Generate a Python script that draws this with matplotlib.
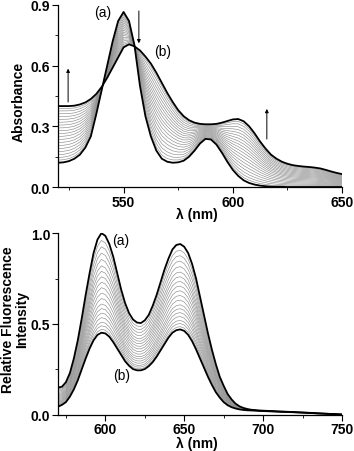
import numpy as np
import matplotlib
matplotlib.use("Agg")
import matplotlib.pyplot as plt
from matplotlib.ticker import MultipleLocator

plt.rcParams['font.family'] = ['Liberation Sans', 'DejaVu Sans']
plt.rcParams['font.weight'] = 'bold'
plt.rcParams['font.size'] = 10

# --- absorbance titration (top) ---
abs_wl = [520, 522.5, 525, 527.5, 530, 532.5, 535, 537.5, 540, 542.5, 545, 547.5,
          550, 552.5, 555, 557.5, 560, 562.5, 565, 567.5, 570, 572.5, 575, 577.5,
          580, 582.5, 585, 587.5, 590, 592.5, 595, 597.5, 600, 602.5, 605, 607.5,
          610, 612.5, 615, 617.5, 620, 622.5, 625, 627.5, 630, 632.5, 635, 637.5,
          640, 642.5, 645, 647.5, 650]
abs_a = [0.120, 0.122, 0.128, 0.140, 0.160, 0.195, 0.250, 0.360, 0.480, 0.600, 0.720, 0.820,
         0.865, 0.820, 0.700, 0.500, 0.350, 0.250, 0.180, 0.140, 0.125, 0.120, 0.122, 0.130,
         0.150, 0.180, 0.215, 0.238, 0.235, 0.210, 0.170, 0.125, 0.085, 0.055, 0.033, 0.020,
         0.012, 0.007, 0.004, 0.002, 0.001, 0.001, 0.0, 0.0, 0.0, 0.0, 0.0, 0.0,
         0.0, 0.0, 0.0, 0.0, 0.0]
abs_b = [0.400, 0.400, 0.400, 0.402, 0.408, 0.418, 0.435, 0.460, 0.495, 0.540, 0.590, 0.640,
         0.690, 0.705, 0.695, 0.675, 0.645, 0.610, 0.565, 0.515, 0.465, 0.420, 0.380, 0.350,
         0.330, 0.318, 0.312, 0.310, 0.310, 0.312, 0.318, 0.326, 0.334, 0.336, 0.325, 0.300,
         0.265, 0.225, 0.190, 0.160, 0.140, 0.125, 0.115, 0.108, 0.104, 0.101, 0.099, 0.096,
         0.092, 0.085, 0.077, 0.070, 0.064]
# absorbance of each titration step at 520 nm
abs_levels_520 = [0.133, 0.146, 0.160, 0.175, 0.190, 0.205, 0.220, 0.235, 0.250, 0.264,
                  0.278, 0.292, 0.306, 0.320, 0.334, 0.348, 0.362, 0.376, 0.388]

# --- fluorescence titration (bottom) ---
fl_wl = [570, 572.5, 575, 577.5, 580, 582.5, 585, 587.5, 590, 592.5, 595, 597.5,
         600, 602.5, 605, 607.5, 610, 612.5, 615, 617.5, 620, 622.5, 625, 627.5,
         630, 632.5, 635, 637.5, 640, 642.5, 645, 647.5, 650, 652.5, 655, 657.5,
         660, 662.5, 665, 667.5, 670, 672.5, 675, 677.5, 680, 682.5, 685, 687.5,
         690, 692.5, 695, 697.5, 700, 705, 710, 715, 720, 725, 730, 735, 740, 745, 750]
fl_a = [0.150, 0.155, 0.180, 0.230, 0.310, 0.410, 0.530, 0.660, 0.780, 0.890, 0.965, 1.000,
        0.985, 0.940, 0.870, 0.780, 0.690, 0.615, 0.560, 0.525, 0.508, 0.505, 0.520, 0.550,
        0.600, 0.660, 0.730, 0.800, 0.860, 0.910, 0.935, 0.940, 0.925, 0.890, 0.830, 0.750,
        0.650, 0.550, 0.450, 0.360, 0.280, 0.210, 0.160, 0.115, 0.085, 0.062, 0.047, 0.038,
        0.032, 0.028, 0.026, 0.024, 0.023, 0.021, 0.019, 0.017, 0.015, 0.013, 0.011, 0.008,
        0.006, 0.004, 0.002]
fl_b = [0.045, 0.055, 0.070, 0.100, 0.140, 0.190, 0.250, 0.310, 0.365, 0.410, 0.440, 0.452,
        0.448, 0.430, 0.400, 0.365, 0.330, 0.295, 0.270, 0.252, 0.245, 0.245, 0.252, 0.268,
        0.290, 0.320, 0.355, 0.390, 0.425, 0.452, 0.466, 0.470, 0.462, 0.440, 0.405, 0.360,
        0.310, 0.260, 0.210, 0.165, 0.125, 0.095, 0.070, 0.053, 0.042, 0.035, 0.030, 0.027,
        0.025, 0.024, 0.023, 0.022, 0.021, 0.019, 0.017, 0.016, 0.014, 0.012, 0.010, 0.008,
        0.006, 0.004, 0.002]
# intensity of each titration step at 597.5 nm
fl_levels_597 = [0.960, 0.925, 0.890, 0.855, 0.820, 0.790, 0.760, 0.730, 0.700, 0.670,
                 0.640, 0.610, 0.585, 0.560, 0.535, 0.510, 0.490, 0.470]

abs_wl, abs_a, abs_b = np.array(abs_wl), np.array(abs_a), np.array(abs_b)
fl_wl, fl_a, fl_b = np.array(fl_wl), np.array(fl_a), np.array(fl_b)

fig = plt.figure(figsize=(3.54, 4.52), dpi=100)
ax1 = fig.add_axes([0.164, 0.584, 0.802, 0.403])
ax2 = fig.add_axes([0.164, 0.080, 0.802, 0.402])

# intermediate spectra: mixtures of the two end spectra (two-state titration)
for lev in abs_levels_520:
    f = (lev - abs_a[0]) / (abs_b[0] - abs_a[0])
    ax1.plot(abs_wl, abs_a + f * (abs_b - abs_a), color='0.55', lw=0.45)
ax1.plot(abs_wl, abs_a, color='k', lw=1.3)
ax1.plot(abs_wl, abs_b, color='k', lw=1.3)

i597 = list(fl_wl).index(597.5)
for lev in fl_levels_597:
    f = (fl_a[i597] - lev) / (fl_a[i597] - fl_b[i597])
    ax2.plot(fl_wl, fl_a + f * (fl_b - fl_a), color='0.55', lw=0.45)
ax2.plot(fl_wl, fl_a, color='k', lw=1.3)
ax2.plot(fl_wl, fl_b, color='k', lw=1.3)

ax1.set_xlim(520, 650)
ax1.set_ylim(0, 0.9)
ax1.xaxis.set_major_locator(MultipleLocator(50))
ax1.xaxis.set_minor_locator(MultipleLocator(25))
ax1.yaxis.set_major_locator(MultipleLocator(0.3))
ax1.yaxis.set_minor_locator(MultipleLocator(0.15))
ax1.yaxis.set_major_formatter(lambda v, p: f"{v:.1f}")

ax2.set_xlim(570, 750)
ax2.set_ylim(0, 1.0)
ax2.xaxis.set_major_locator(MultipleLocator(50))
ax2.xaxis.set_minor_locator(MultipleLocator(25))
ax2.yaxis.set_major_locator(MultipleLocator(0.5))
ax2.yaxis.set_minor_locator(MultipleLocator(0.25))
ax2.yaxis.set_major_formatter(lambda v, p: f"{v:.1f}")

for ax in (ax1, ax2):
    ax.spines['top'].set_visible(False)
    ax.spines['right'].set_visible(False)
    for s in ('left', 'bottom'):
        ax.spines[s].set_linewidth(0.9)
    ax.tick_params(which='major', direction='out', length=4, width=0.8, labelsize=10, pad=1.5)
    ax.tick_params(which='minor', direction='out', length=2, width=0.6)
    ax.set_xlabel("λ (nm)", fontsize=10, fontweight='bold')
    ax.xaxis.label.set_verticalalignment('center')

ax1.set_ylabel("Absorbance", fontsize=10, fontweight='bold', va='center', ha='center')
ax1.yaxis.set_label_coords(-0.14, 0.47)
ax1.xaxis.set_label_coords(0.49, -0.15)
ax2.set_ylabel("Relative Fluorescence\nIntensity", fontsize=10, fontweight='bold',
               va='center', ha='center', linespacing=0.95)
ax2.yaxis.set_label_coords(-0.152, 0.53)
ax2.xaxis.set_label_coords(0.49, -0.155)

ax1.text(540.6, 0.866, "(a)", ha='center', va='center', fontsize=10, fontweight='normal')
ax1.text(568, 0.67, "(b)", ha='center', va='center', fontsize=10, fontweight='normal')
arrow = dict(arrowstyle='-|>', lw=0.7, color='k', mutation_scale=5, shrinkA=0, shrinkB=0)
ax1.annotate('', xy=(524.6, 0.585), xytext=(524.6, 0.42), arrowprops=arrow)
ax1.annotate('', xy=(557, 0.71), xytext=(557, 0.87), arrowprops=arrow)
ax1.annotate('', xy=(615.6, 0.386), xytext=(615.6, 0.237), arrowprops=arrow)

ax2.text(610, 0.96, "(a)", ha='center', va='center', fontsize=10, fontweight='normal')
ax2.text(610, 0.22, "(b)", ha='center', va='center', fontsize=10, fontweight='normal')

fig.savefig("out.png", dpi=100)
